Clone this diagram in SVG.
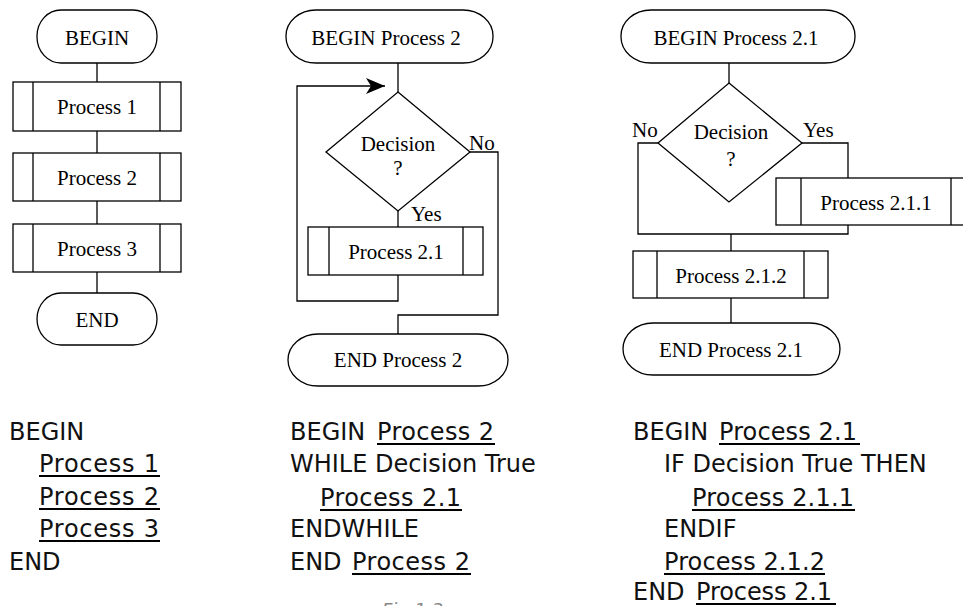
<svg xmlns="http://www.w3.org/2000/svg" width="963" height="606" viewBox="0 0 963 606">
  <style>
    .shape { fill: #fff; stroke: #000; stroke-width: 1.3; }
    .bar { stroke: #000; stroke-width: 1.3; fill: none; }
    .wire { stroke: #000; stroke-width: 1.3; fill: none; }
    .lbl { font-family: "Liberation Serif", "Times New Roman", serif; font-size: 21px; fill: #000; }
    .mid { text-anchor: middle; }
    .code { font-family: "DejaVu Sans", "Century Gothic", sans-serif; font-size: 24px; fill: #111; }
    .ul { stroke: #000; stroke-width: 2; }
    .cap { font-family: "DejaVu Sans", sans-serif; font-size: 18px; font-style: italic; fill: #888; }
  </style>
  <defs>
    <marker id="arrow" markerWidth="20" markerHeight="16" refX="19" refY="8" orient="auto" markerUnits="userSpaceOnUse">
      <path d="M0,0 L19,8 L0,16 L5,8 Z" fill="#000"/>
    </marker>
  </defs>

  <rect width="963" height="606" fill="#fff"/>

  <!-- connectors -->
  <g id="connectors">
    <!-- sequence chart -->
    <line class="wire" x1="97" y1="63" x2="97" y2="82"/>
    <line class="wire" x1="97" y1="131" x2="97" y2="153"/>
    <line class="wire" x1="97" y1="201" x2="97" y2="224"/>
    <line class="wire" x1="97" y1="272" x2="97" y2="293"/>

    <!-- loop chart -->
    <line class="wire" x1="398" y1="63" x2="398" y2="92"/>
    <polyline class="wire" points="398,275 398,301 297,301 297,86 385,86" marker-end="url(#arrow)"/>
    <line class="wire" x1="398" y1="211" x2="398" y2="227"/>
    <polyline class="wire" points="470,152 498,152 498,315 398,315 398,334"/>

    <!-- selection chart -->
    <line class="wire" x1="729" y1="63" x2="729" y2="83"/>
    <polyline class="wire" points="658,143 638,143 638,234 848,234 848,225"/>
    <polyline class="wire" points="802,143 848,143 848,178"/>
    <line class="wire" x1="731" y1="234" x2="731" y2="251"/>
    <line class="wire" x1="731" y1="298" x2="731" y2="323"/>
  </g>

  <!-- sequence chart -->
  <g id="begin1">
    <rect class="shape" x="37" y="10" width="120" height="53" rx="24" ry="26"/>
    <text class="lbl mid" x="97" y="45">BEGIN</text>
  </g>
  <g id="process1">
    <rect class="shape" x="13" y="82" width="168" height="49"/>
    <line class="bar" x1="33" y1="82" x2="33" y2="131"/>
    <line class="bar" x1="160" y1="82" x2="160" y2="131"/>
    <text class="lbl mid" x="97" y="114">Process 1</text>
  </g>
  <g id="process2">
    <rect class="shape" x="13" y="153" width="168" height="48"/>
    <line class="bar" x1="33" y1="153" x2="33" y2="201"/>
    <line class="bar" x1="160" y1="153" x2="160" y2="201"/>
    <text class="lbl mid" x="97" y="185">Process 2</text>
  </g>
  <g id="process3">
    <rect class="shape" x="13" y="224" width="168" height="48"/>
    <line class="bar" x1="33" y1="224" x2="33" y2="272"/>
    <line class="bar" x1="160" y1="224" x2="160" y2="272"/>
    <text class="lbl mid" x="97" y="256">Process 3</text>
  </g>
  <g id="end1">
    <rect class="shape" x="37" y="293" width="120" height="52" rx="24" ry="26"/>
    <text class="lbl mid" x="97" y="327">END</text>
  </g>

  <!-- loop chart -->
  <g id="begin2">
    <rect class="shape" x="286" y="10" width="207" height="53" rx="30" ry="26"/>
    <text class="lbl mid" x="386" y="45">BEGIN Process 2</text>
  </g>
  <g id="decision2">
    <polygon class="shape" points="398,92 470,152 398,211 326,152"/>
    <text class="lbl mid" x="398" y="151">Decision</text>
    <text class="lbl mid" x="398" y="175">?</text>
    <text class="lbl" x="469" y="150">No</text>
    <text class="lbl" x="411" y="221">Yes</text>
  </g>
  <g id="process21">
    <rect class="shape" x="308" y="227" width="175" height="48"/>
    <line class="bar" x1="329" y1="227" x2="329" y2="275"/>
    <line class="bar" x1="463" y1="227" x2="463" y2="275"/>
    <text class="lbl mid" x="396" y="259">Process 2.1</text>
  </g>
  <g id="end2">
    <rect class="shape" x="288" y="334" width="220" height="52" rx="30" ry="26"/>
    <text class="lbl mid" x="398" y="367">END Process 2</text>
  </g>

  <!-- selection chart -->
  <g id="begin21">
    <rect class="shape" x="621" y="10" width="234" height="53" rx="30" ry="26"/>
    <text class="lbl mid" x="736" y="45">BEGIN Process 2.1</text>
  </g>
  <g id="decision21">
    <polygon class="shape" points="729,83 802,143 729,202 658,143"/>
    <text class="lbl mid" x="731" y="139">Decision</text>
    <text class="lbl mid" x="731" y="166">?</text>
    <text class="lbl" x="632" y="137">No</text>
    <text class="lbl" x="803" y="137">Yes</text>
  </g>
  <g id="process211">
    <rect class="shape" x="776" y="178" width="200" height="47"/>
    <line class="bar" x1="801" y1="178" x2="801" y2="225"/>
    <line class="bar" x1="951" y1="178" x2="951" y2="225"/>
    <text class="lbl mid" x="876" y="210">Process 2.1.1</text>
  </g>
  <g id="process212">
    <rect class="shape" x="633" y="251" width="195" height="47"/>
    <line class="bar" x1="657" y1="251" x2="657" y2="298"/>
    <line class="bar" x1="804" y1="251" x2="804" y2="298"/>
    <text class="lbl mid" x="731" y="283">Process 2.1.2</text>
  </g>
  <g id="end21">
    <rect class="shape" x="623" y="323" width="217" height="52" rx="30" ry="26"/>
    <text class="lbl mid" x="731" y="357">END Process 2.1</text>
  </g>

  <!-- pseudocode listings -->
  <g id="code1" class="code">
    <text x="9" y="440">BEGIN</text>
    <text x="39" y="472" textLength="120" lengthAdjust="spacing">Process 1</text>
    <text x="39" y="505" textLength="120" lengthAdjust="spacing">Process 2</text>
    <text x="39" y="537" textLength="120" lengthAdjust="spacing">Process 3</text>
    <text x="9" y="570">END</text>
    <line class="ul" x1="39" y1="476" x2="160" y2="476"/>
    <line class="ul" x1="39" y1="509" x2="160" y2="509"/>
    <line class="ul" x1="39" y1="541" x2="160" y2="541"/>
  </g>
  <g id="code2" class="code">
    <text x="290" y="440">BEGIN</text>
    <text x="377" y="440" textLength="117" lengthAdjust="spacing">Process 2</text>
    <text x="290" y="472">WHILE Decision True</text>
    <text x="320" y="506" textLength="141" lengthAdjust="spacing">Process 2.1</text>
    <text x="290" y="537">ENDWHILE</text>
    <text x="290" y="570">END</text>
    <text x="352" y="570" textLength="118" lengthAdjust="spacing">Process 2</text>
    <line class="ul" x1="377" y1="444" x2="495" y2="444"/>
    <line class="ul" x1="320" y1="510" x2="462" y2="510"/>
    <line class="ul" x1="352" y1="574" x2="471" y2="574"/>
  </g>
  <g id="code3" class="code">
    <text x="633" y="440">BEGIN</text>
    <text x="719" y="440" textLength="138" lengthAdjust="spacing">Process 2.1</text>
    <text x="664" y="472">IF Decision True THEN</text>
    <text x="692" y="506" textLength="162" lengthAdjust="spacing">Process 2.1.1</text>
    <text x="664" y="537">ENDIF</text>
    <text x="664" y="570" textLength="161" lengthAdjust="spacing">Process 2.1.2</text>
    <text x="633" y="600">END</text>
    <text x="696" y="600" textLength="136" lengthAdjust="spacing">Process 2.1</text>
    <line class="ul" x1="719" y1="444" x2="860" y2="444"/>
    <line class="ul" x1="692" y1="510" x2="855" y2="510"/>
    <line class="ul" x1="664" y1="574" x2="825" y2="574"/>
    <line class="ul" x1="696" y1="604" x2="836" y2="604"/>
  </g>

  <text class="cap" x="382" y="616">Fig 1.3</text>
</svg>
